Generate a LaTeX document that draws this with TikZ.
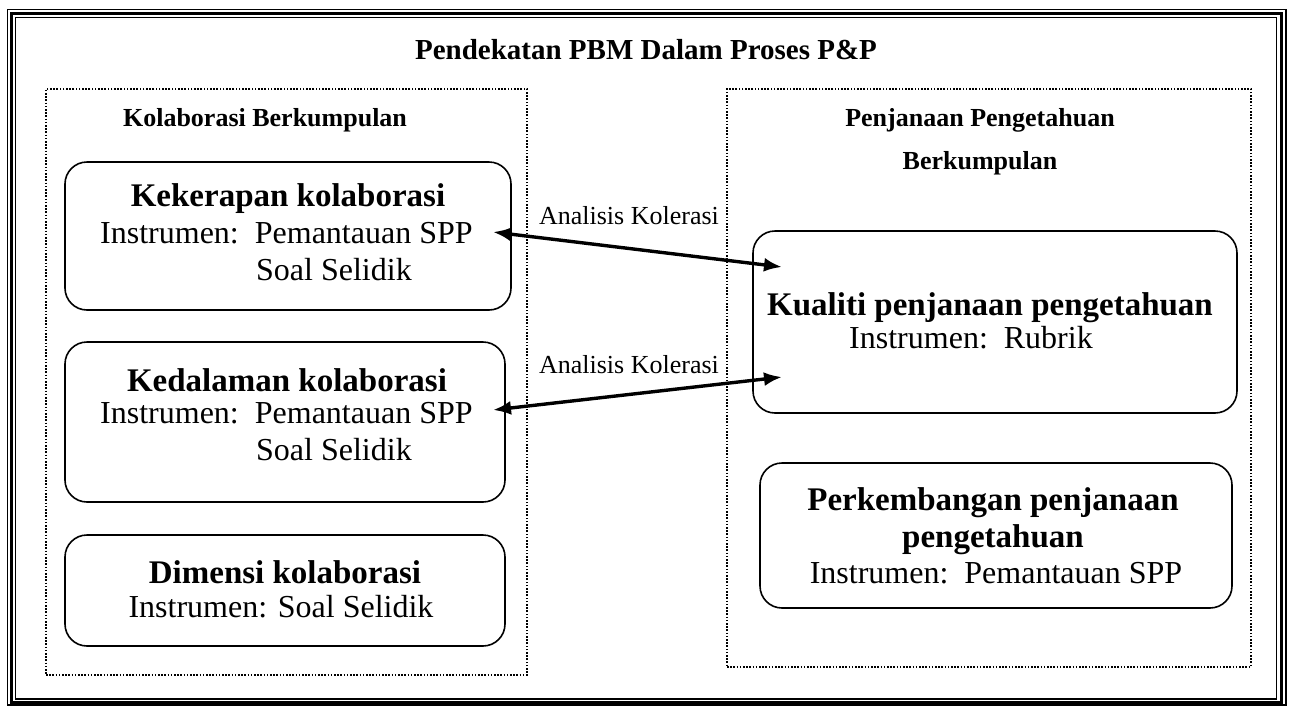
\documentclass[tikz,border=0pt]{standalone}
\usepackage{fontspec}
\setmainfont{Liberation Serif}
\usetikzlibrary{arrows.meta}
\begin{document}
\begin{tikzpicture}[x=1pt,y=-1pt,
  rbox/.style={draw, line width=1.6pt, rounded corners=22pt, inner sep=0pt},
  dbox/.style={draw, line width=1.6pt, dash pattern=on 1.6pt off 1.6pt, inner sep=0pt},
  txt/.style={inner sep=0pt, anchor=base},
  txtw/.style={inner sep=0pt, anchor=base west},
  ttl/.style={font=\fontsize{29}{34}\selectfont\bfseries},
  head/.style={font=\fontsize{26}{30}\selectfont\bfseries},
  btitle/.style={font=\fontsize{33}{38}\selectfont\bfseries},
  body/.style={font=\fontsize{32}{38}\selectfont},
  lab/.style={font=\fontsize{26}{30}\selectfont},
  link/.style={line width=3.4pt, {Latex[length=18pt,width=14pt]}-{Latex[length=18pt,width=14pt]}}
]
\useasboundingbox (0,0) rectangle (1290,705);
% outer triple border
\draw[line width=1.2pt] (7.5,9.5) rectangle (1286,705);
\draw[line width=3pt] (11.5,13.5) rectangle (1281.5,702);
\draw[line width=1.2pt] (15.5,17.5) rectangle (1276.5,699);

\node[txt, ttl] (title) at (646,59) {Pendekatan PBM Dalam Proses P\&P};

% dotted groups
\node[dbox, minimum width=481pt, minimum height=586pt] (gl) at (286.5,382) {};
\node[dbox, minimum width=524pt, minimum height=578pt] (gr) at (989,378) {};
\node[txt, head] (hl) at (265,126) {Kolaborasi Berkumpulan};
\node[txt, head] (hr1) at (980,126) {Penjanaan Pengetahuan};
\node[txt, head] (hr2) at (980,169) {Berkumpulan};

% left boxes
\node[rbox, minimum width=446pt, minimum height=148pt] (b1) at (288,236) {};
\node[txt, btitle] (b1t) at (288,206) {Kekerapan kolaborasi};
\node[txtw, body] (b1a) at (100,243) {Instrumen:\ \ Pemantauan SPP};
\node[txtw, body] (b1b) at (256,280) {Soal Selidik};

\node[rbox, minimum width=440pt, minimum height=160pt] (b2) at (285,422) {};
\node[txt, btitle] (b2t) at (287,391) {Kedalaman kolaborasi};
\node[txtw, body] (b2a) at (100,423) {Instrumen:\ \ Pemantauan SPP};
\node[txtw, body] (b2b) at (256,460) {Soal Selidik};

\node[rbox, minimum width=440pt, minimum height=111pt] (b3) at (285,590.5) {};
\node[txt, btitle] (b3t) at (285,583) {Dimensi kolaborasi};
\node[txt, body] (b3a) at (281,617) {Instrumen: Soal Selidik};

% right boxes
\node[rbox, minimum width=484pt, minimum height=182pt] (k) at (995,322) {};
\node[txt, btitle] (kt) at (990,315) {Kualiti penjanaan pengetahuan};
\node[txt, body] (ka) at (971,348) {Instrumen:\ \ Rubrik};

\node[rbox, minimum width=472pt, minimum height=145pt] (p) at (996,535.5) {};
\node[txt, btitle] (pt1) at (993,510) {Perkembangan penjanaan};
\node[txt, btitle] (pt2) at (993,547) {pengetahuan};
\node[txt, body] (pa) at (996,583) {Instrumen:\ \ Pemantauan SPP};

% correlation arrows
\coordinate (a1l) at (493,232);
\coordinate (a1r) at (782,267);
\coordinate (a2l) at (493,410);
\coordinate (a2r) at (782,377);
\draw[link] (a1l) -- (a1r);
\draw[link] (a2l) -- (a2r);
\node[txt, lab] (l1) at (629,224) {Analisis Kolerasi};
\node[txt, lab] (l2) at (629,373) {Analisis Kolerasi};
\end{tikzpicture}
\end{document}
